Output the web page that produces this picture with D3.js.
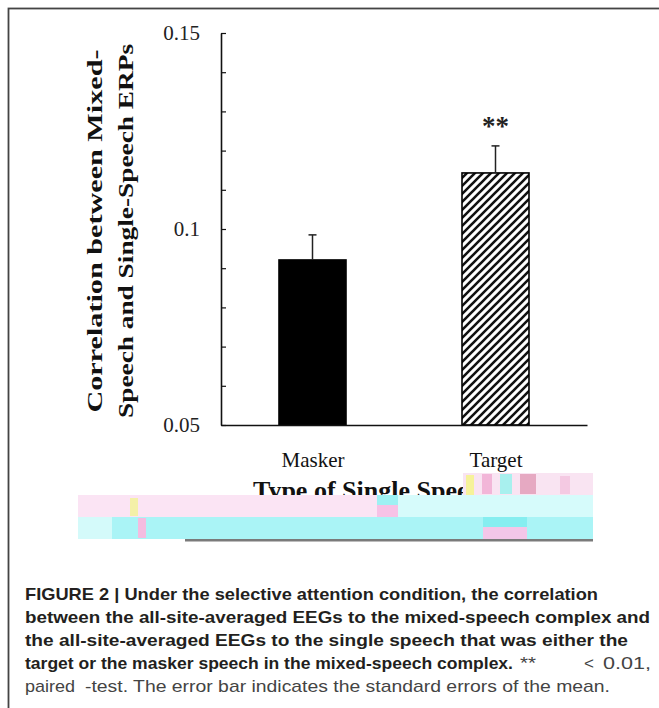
<!DOCTYPE html>
<html>
<head>
<meta charset="utf-8">
<script src="https://cdn.jsdelivr.net/npm/d3@7"></script>
<style>
  body { margin: 0; background: #fff; }
  svg { display: block; }
</style>
</head>
<body>
<svg width="659" height="708"></svg>
<script>
const categories = ["Masker", "Target"];
const means = [0.0921, 0.1143];
const sems = [0.0064, 0.0069];
const yTicks = [0.05, 0.06, 0.07, 0.08, 0.09, 0.1, 0.11, 0.12, 0.13, 0.14, 0.15];
const yTickLabels = { "0.05": "0.05", "0.1": "0.1", "0.15": "0.15" };
const yTitle = ["Correlation between Mixed-", "Speech and Single-Speech ERPs"];
const xTitle = "Type of Single Speech";
const signif = ["", "**"];

const captionLines = [
    { parts: [{ text: "FIGURE 2 | Under the selective attention condition, the correlation", bold: true, x: 25, len: 573 }] },
    { parts: [{ text: "between the all-site-averaged EEGs to the mixed-speech complex and", bold: true, x: 25, len: 625 }] },
    { parts: [{ text: "the all-site-averaged EEGs to the single speech that was either the", bold: true, x: 25, len: 603 }] },
    { parts: [
        { text: "target or the masker speech in the mixed-speech complex.", bold: true, x: 25, len: 488 },
        { text: "**", bold: false, x: 520, len: 16 },
        { text: "<", bold: false, x: 584, len: 0 },
        { text: "0.01,", bold: false, x: 603, len: 48 }
    ] },
    { parts: [
        { text: "paired", bold: false, x: 25, len: 50 },
        { text: "-test. The error bar indicates the standard errors of the mean.", bold: false, x: 85, len: 525 }
    ] }
];

document.addEventListener("DOMContentLoaded", function() {
    const svg = d3.select("svg");

    // frame round the figure, runs off the right and bottom edge
    svg.append("rect")
        .attr("x", 8.5).attr("y", 8.5)
        .attr("width", 720).attr("height", 760)
        .attr("fill", "none")
        .attr("stroke", "#444")
        .attr("stroke-width", 1.8);

    const left = 221, right = 587, top = 33, bottom = 425;

    const y = d3.scaleLinear().domain([0.05, 0.15]).range([bottom, top]);
    const x = d3.scalePoint().domain(categories).range([left, right]).padding(0.5);
    const barWidth = 67;

    const defs = svg.append("defs");
    defs.append("pattern")
        .attr("id", "hatch")
        .attr("patternUnits", "userSpaceOnUse")
        .attr("width", 8).attr("height", 8)
        .append("path")
        .attr("d", "M-2,2 L2,-2 M0,8 L8,0 M6,10 L10,6")
        .attr("stroke", "#111")
        .attr("stroke-width", 2.6);

    const serif = "'Liberation Serif', 'Times New Roman', serif";
    const sans = "'Liberation Sans', Arial, Helvetica, sans-serif";

    // y axis with inward ticks
    const yAxis = d3.axisLeft(y)
        .tickValues(yTicks)
        .tickSizeInner(-5)
        .tickSizeOuter(0)
        .tickPadding(21)
        .tickFormat(d => yTickLabels[String(+d.toFixed(2))] || "");
    const gy = svg.append("g")
        .attr("transform", `translate(${left},0)`)
        .call(yAxis);
    gy.select(".domain").attr("stroke", "#111").attr("stroke-width", 1.6);
    gy.selectAll(".tick line").attr("stroke", "#111").attr("stroke-width", 1.2);
    gy.selectAll(".tick text")
        .attr("font-family", serif)
        .attr("font-size", 21)
        .attr("fill", "#222");

    // bars
    svg.selectAll("rect.bar")
        .data(categories)
        .enter()
        .append("rect")
        .attr("class", "bar")
        .attr("x", d => x(d) - barWidth / 2)
        .attr("y", (d, i) => y(means[i]))
        .attr("width", barWidth)
        .attr("height", (d, i) => y(0.05) - y(means[i]))
        .attr("fill", (d, i) => i === 0 ? "#000" : "url(#hatch)")
        .attr("stroke", "#000")
        .attr("stroke-width", 1.6);

    // error bars (upper half only)
    const err = svg.selectAll("g.err")
        .data(categories)
        .enter()
        .append("g")
        .attr("class", "err")
        .attr("stroke", "#222")
        .attr("stroke-width", 1.5);
    err.append("line")
        .attr("x1", d => x(d)).attr("x2", d => x(d))
        .attr("y1", (d, i) => y(means[i]))
        .attr("y2", (d, i) => y(means[i] + sems[i]));
    err.append("line")
        .attr("x1", d => x(d) - 4).attr("x2", d => x(d) + 4)
        .attr("y1", (d, i) => y(means[i] + sems[i]))
        .attr("y2", (d, i) => y(means[i] + sems[i]));

    svg.selectAll("text.sig")
        .data(categories)
        .enter()
        .append("text")
        .attr("class", "sig")
        .attr("x", d => x(d))
        .attr("y", (d, i) => y(means[i] + sems[i]) - 11)
        .attr("text-anchor", "middle")
        .attr("font-family", serif)
        .attr("font-weight", "bold")
        .attr("font-size", 27)
        .attr("fill", "#222")
        .text((d, i) => signif[i]);

    // x axis
    const xAxis = d3.axisBottom(x).tickSize(0).tickSizeOuter(0).tickPadding(27);
    const gx = svg.append("g")
        .attr("transform", `translate(0,${bottom})`)
        .call(xAxis);
    gx.select(".domain").attr("stroke", "#111").attr("stroke-width", 1.6);
    gx.selectAll(".tick text")
        .attr("font-family", serif)
        .attr("font-size", 21)
        .attr("fill", "#111");

    svg.append("text")
        .attr("x", 253)
        .attr("y", 499)
        .attr("font-family", serif)
        .attr("font-weight", "bold")
        .attr("font-size", 26)
        .attr("fill", "#111")
        .text(xTitle);

    // rotated y title, two lines
    svg.selectAll("text.ytitle")
        .data(yTitle)
        .enter()
        .append("text")
        .attr("class", "ytitle")
        .attr("transform", (d, i) => `translate(${102 + i * 31},231) rotate(-90)`)
        .attr("text-anchor", "middle")
        .attr("font-family", serif)
        .attr("font-weight", "bold")
        .attr("font-size", 22)
        .attr("fill", "#111")
        .attr("textLength", (d, i) => i === 0 ? 363 : 374)
        .attr("lengthAdjust", "spacingAndGlyphs")
        .text(d => d);

    // the broken band from the scan
    const glitch = svg.append("g");
    const blocks = [
        [463, 473, 130, 22, "#f9e4f2"],
        [466, 475, 8, 20, "#f6f29a"],
        [482, 474, 10, 20, "#f2b6d8"],
        [500, 474, 12, 20, "#a8f0ee"],
        [520, 474, 16, 20, "#e6a9c2"],
        [560, 476, 10, 18, "#f4c9e2"],
        [78, 495, 300, 22, "#fbe4f4"],
        [377, 495, 21, 10, "#9ef1f3"],
        [377, 505, 21, 12, "#f7c2e6"],
        [398, 495, 195, 22, "#d6fbfb"],
        [78, 517, 515, 22, "#aaf4f6"],
        [78, 517, 34, 22, "#d4fafa"],
        [483, 517, 44, 10, "#86eef0"],
        [483, 527, 44, 12, "#f3c6e8"],
        [130, 498, 8, 18, "#f4f0a8"],
        [138, 518, 8, 20, "#f4bce0"],
        [185, 539, 408, 2.5, "#7a7a7a"]
    ];
    glitch.selectAll("rect")
        .data(blocks)
        .enter()
        .append("rect")
        .attr("x", d => d[0]).attr("y", d => d[1])
        .attr("width", d => d[2]).attr("height", d => d[3])
        .attr("fill", d => d[4]);

    // caption
    const lineY = [600, 623, 646, 669, 692];
    captionLines.forEach((line, li) => {
        line.parts.forEach(p => {
            const t = svg.append("text")
                .attr("x", p.x)
                .attr("y", lineY[li])
                .attr("font-family", sans)
                .attr("font-weight", p.bold ? "bold" : "normal")
                .attr("font-size", 17)
                .attr("fill", p.bold ? "#231f20" : "#444")
                .text(p.text);
            if (p.len) {
                t.attr("textLength", p.len).attr("lengthAdjust", "spacingAndGlyphs");
            }
        });
    });
});
</script>
</body>
</html>
